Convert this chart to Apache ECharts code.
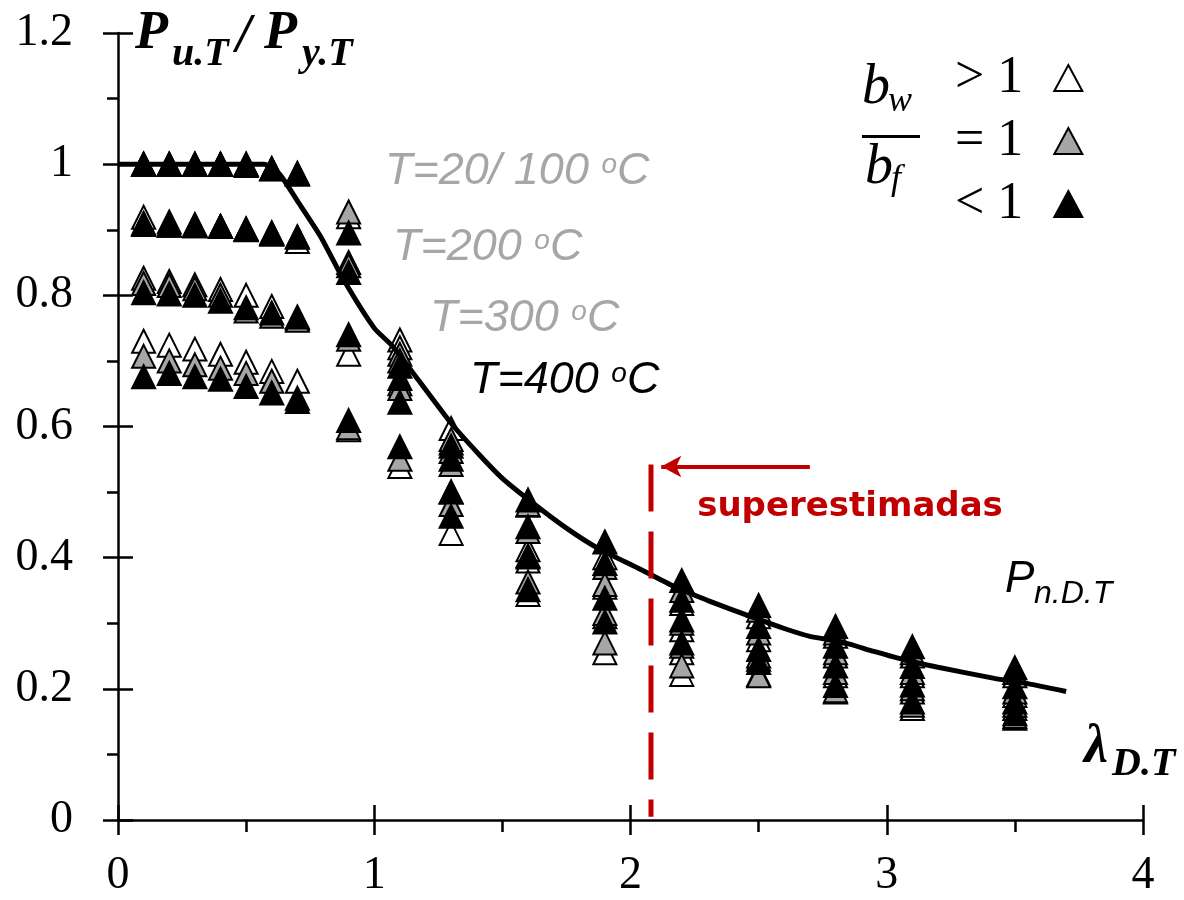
<!DOCTYPE html>
<html>
<head>
<meta charset="utf-8">
<title>Pu.T / Py.T</title>
<script src="https://cdn.jsdelivr.net/npm/echarts@6/dist/echarts.min.js"></script>
<style>
  html, body { margin: 0; padding: 0; background: #fff; }
  #chart { width: 1184px; height: 900px; }
</style>
</head>
<body>
<div id="chart"></div>
<script>
// slenderness values of the tests
const lambdas = [0.1, 0.2, 0.3, 0.4, 0.5, 0.6, 0.7, 0.9, 1.1, 1.3, 1.6, 1.9, 2.2, 2.5, 2.8, 3.1, 3.5];

// Pu/Py per lambda, one value per temperature (20/100, 200, 300, 400 oC)
// bw/bf > 1 (white)
const whiteY = [
  [1.0, 0.919, 0.826, 0.730],
  [1.0, 0.912, 0.821, 0.724],
  [1.0, 0.908, 0.816, 0.718],
  [1.0, 0.905, 0.809, 0.710],
  [1.0, 0.900, 0.800, 0.698],
  [0.993, 0.893, 0.783, 0.684],
  [0.985, 0.882, 0.765, 0.669],
  [0.920, 0.850, 0.710, 0.595],
  [0.732, 0.720, 0.665, 0.539],
  [0.597, 0.575, 0.500, 0.437],
  [0.480, 0.412, 0.395, 0.344],
  [0.400, 0.355, 0.310, 0.255],
  [0.330, 0.290, 0.255, 0.222],
  [0.310, 0.275, 0.245, 0.222],
  [0.280, 0.250, 0.220, 0.195],
  [0.250, 0.220, 0.195, 0.170],
  [0.220, 0.190, 0.170, 0.155]
];
// bw/bf = 1 (gray)
const grayY = [
  [1.0, 0.910, 0.818, 0.707],
  [1.0, 0.907, 0.815, 0.700],
  [1.0, 0.906, 0.810, 0.694],
  [1.0, 0.905, 0.800, 0.689],
  [1.0, 0.901, 0.776, 0.681],
  [0.993, 0.895, 0.768, 0.669],
  [0.985, 0.889, 0.762, 0.643],
  [0.927, 0.845, 0.733, 0.598],
  [0.710, 0.700, 0.658, 0.550],
  [0.580, 0.562, 0.542, 0.481],
  [0.481, 0.440, 0.403, 0.363],
  [0.385, 0.359, 0.315, 0.270],
  [0.350, 0.300, 0.265, 0.235],
  [0.320, 0.285, 0.250, 0.220],
  [0.285, 0.255, 0.225, 0.197],
  [0.255, 0.225, 0.200, 0.175],
  [0.225, 0.195, 0.175, 0.158]
];
// bw/bf < 1 (black)
const blackY = [
  [1.0, 0.908, 0.804, 0.676],
  [1.0, 0.907, 0.802, 0.681],
  [1.0, 0.906, 0.800, 0.676],
  [1.0, 0.905, 0.791, 0.672],
  [0.998, 0.901, 0.781, 0.661],
  [0.993, 0.895, 0.773, 0.651],
  [0.986, 0.889, 0.767, 0.638],
  [0.895, 0.835, 0.740, 0.609],
  [0.692, 0.673, 0.637, 0.569],
  [0.570, 0.550, 0.500, 0.463],
  [0.488, 0.447, 0.401, 0.351],
  [0.424, 0.391, 0.338, 0.302],
  [0.365, 0.335, 0.305, 0.270],
  [0.327, 0.295, 0.260, 0.240],
  [0.295, 0.265, 0.235, 0.205],
  [0.264, 0.234, 0.206, 0.180],
  [0.232, 0.203, 0.180, 0.162]
];

// design curve Pn.D.T
const curveX = [0, 0.57, 0.63, 0.70, 0.79, 0.88, 1.0, 1.07, 1.17, 1.3, 1.41, 1.5, 1.62, 1.75, 1.87, 2.04, 2.17, 2.3, 2.47, 2.6, 2.7, 2.82, 2.95, 3.07, 3.2, 3.42, 3.55, 3.7];
const curveY = [1.0, 1.0, 0.985, 0.944, 0.89, 0.824, 0.75, 0.723, 0.672, 0.605, 0.557, 0.521, 0.483, 0.445, 0.415, 0.382, 0.356, 0.335, 0.31, 0.292, 0.28, 0.272, 0.257, 0.244, 0.233, 0.216, 0.208, 0.196];

// red limit line and arrow
const limitX = [2.08, 2.08];
const limitY = [0.542, 0.005];
const arrowX = [2.7, 2.12];
const arrowY = [0.539, 0.539];

const seriesNames = ['> 1', '= 1', '< 1'];

const pts = (ys) => lambdas.flatMap((x, i) => ys[i].map((y) => [x, y]));

const serif = "'Liberation Serif','Times New Roman',serif";
const sans = "'Liberation Sans',Arial,sans-serif";

const txt = (x, y, text, font, fill) => ({
  type: 'text',
  x: x,
  y: y,
  silent: true,
  style: { text: text, font: font, fill: fill || '#000', align: 'left', verticalAlign: 'middle' }
});

const tempLabel = (x, y, t, fill) => ({
  type: 'text',
  x: x,
  y: y,
  silent: true,
  style: {
    text: '{a|' + t + ' }{s|o}{a|C}',
    fill: fill,
    align: 'left',
    verticalAlign: 'middle',
    rich: {
      a: { fontFamily: sans, fontStyle: 'italic', fontSize: 45, lineHeight: 40, fill: fill },
      s: { fontFamily: sans, fontStyle: 'italic', fontSize: 28, lineHeight: 28, fill: fill, verticalAlign: 'top' }
    }
  }
});

const tri = (name, fill, ys) => ({
  name: name,
  type: 'scatter',
  symbol: 'triangle',
  symbolSize: [23, 23],
  itemStyle: { color: fill, borderColor: '#000', borderWidth: 2, opacity: 1 },
  emphasis: { disabled: true },
  data: pts(ys),
  z: 2
});

const axisBase = {
  type: 'value',
  axisLine: { show: true, lineStyle: { color: '#000', width: 2.5 } },
  splitLine: { show: false },
  axisLabel: { color: '#000', fontFamily: serif, fontSize: 46 }
};

const chart = echarts.init(document.getElementById('chart'));
chart.setOption({
  animation: false,
  backgroundColor: '#fff',
  grid: { left: 118, right: 41, top: 33, bottom: 80, containLabel: false },
  xAxis: [
    Object.assign({}, axisBase, {
      min: 0, max: 4, interval: 1,
      axisTick: { show: true, length: 15, lineStyle: { color: '#000', width: 2.5 } },
      minorTick: { show: true, splitNumber: 2, length: 12, lineStyle: { color: '#000', width: 2.5 } },
      axisLabel: { color: '#000', fontFamily: serif, fontSize: 46, margin: 33 }
    }),
    {
      type: 'value', min: 0, max: 4, interval: 1, position: 'bottom',
      axisLine: { show: false }, splitLine: { show: false }, axisLabel: { show: false },
      axisTick: { show: true, inside: true, length: 15, lineStyle: { color: '#000', width: 2.5 } }
    }
  ],
  yAxis: [
    Object.assign({}, axisBase, {
      min: 0, max: 1.2, interval: 0.2,
      axisTick: { show: true, length: 15, lineStyle: { color: '#000', width: 2.5 } },
      minorTick: { show: true, splitNumber: 2, length: 11, lineStyle: { color: '#000', width: 2.5 } },
      axisLabel: { color: '#000', fontFamily: serif, fontSize: 46, margin: 45 }
    }),
    {
      type: 'value', min: 0, max: 1.2, interval: 0.2, position: 'left',
      axisLine: { show: false }, splitLine: { show: false }, axisLabel: { show: false },
      axisTick: { show: true, inside: true, length: 15, lineStyle: { color: '#000', width: 2.5 } }
    }
  ],
  legend: {
    data: seriesNames,
    orient: 'vertical',
    left: 950,
    top: 47,
    align: 'right',
    itemWidth: 28,
    itemHeight: 26,
    itemGap: 11,
    selectedMode: false,
    formatter: (n) => n + '  ',
    textStyle: { color: '#000', fontFamily: serif, fontSize: 52, lineHeight: 52 }
  },
  series: [
    tri(seriesNames[0], '#ffffff', whiteY),
    tri(seriesNames[1], '#a6a6a6', grayY),
    tri(seriesNames[2], '#000000', blackY),
    {
      name: 'Pn.D.T',
      type: 'line',
      data: curveX.map((x, i) => [x, curveY[i]]),
      symbol: 'none',
      smooth: 0.2,
      lineStyle: { color: '#000', width: 5 },
      emphasis: { disabled: true },
      z: 3
    },
    {
      name: 'limite',
      type: 'line',
      data: limitX.map((x, i) => [x, limitY[i]]),
      symbol: 'none',
      lineStyle: { color: '#c00000', width: 5, type: [47, 20] },
      emphasis: { disabled: true },
      z: 3,
      markLine: {
        silent: true,
        symbol: ['none', 'arrow'],
        symbolSize: [16, 20],
        label: { show: false },
        lineStyle: { color: '#c00000', width: 4, type: 'solid' },
        data: [[{ coord: [arrowX[0], arrowY[0]] }, { coord: [arrowX[1], arrowY[1]] }]]
      }
    }
  ],
  graphic: [
    // y axis title
    txt(135, 34, 'P', 'italic bold 54px ' + serif),
    txt(172, 55, 'u.T', 'italic bold 40px ' + serif),
    txt(236, 37, '/', 'italic bold 54px ' + serif),
    txt(264, 34, 'P', 'italic bold 54px ' + serif),
    txt(302, 55, 'y.T', 'italic bold 40px ' + serif),
    // x axis title
    txt(1084, 748, '\u03bb', 'italic bold 54px ' + serif),
    txt(1112, 765, 'D.T', 'italic bold 40px ' + serif),
    // curve label
    txt(1005, 580, 'P', 'italic 44px ' + sans),
    txt(1034, 594, 'n.D.T', 'italic 32px ' + sans),
    // temperature labels
    tempLabel(385, 171, 'T=20/ 100', '#a6a6a6'),
    tempLabel(393, 247, 'T=200', '#a6a6a6'),
    tempLabel(430, 318, 'T=300', '#a6a6a6'),
    tempLabel(470, 380, 'T=400', '#000000'),
    // red note
    {
      type: 'text', x: 850, y: 507, silent: true,
      style: { text: 'superestimadas', font: "bold 34px 'DejaVu Sans',Verdana,sans-serif", fill: '#c00000', align: 'center', verticalAlign: 'middle' }
    },
    // legend fraction bw / bf
    txt(862, 88, 'b', 'italic 56px ' + serif),
    txt(888, 102, 'w', 'italic 36px ' + serif),
    { type: 'rect', silent: true, shape: { x: 862, y: 135, width: 58, height: 3 }, style: { fill: '#000' } },
    txt(865, 168, 'b', 'italic 56px ' + serif),
    txt(891, 180, 'f', 'italic 36px ' + serif)
  ]
});
</script>
</body>
</html>
